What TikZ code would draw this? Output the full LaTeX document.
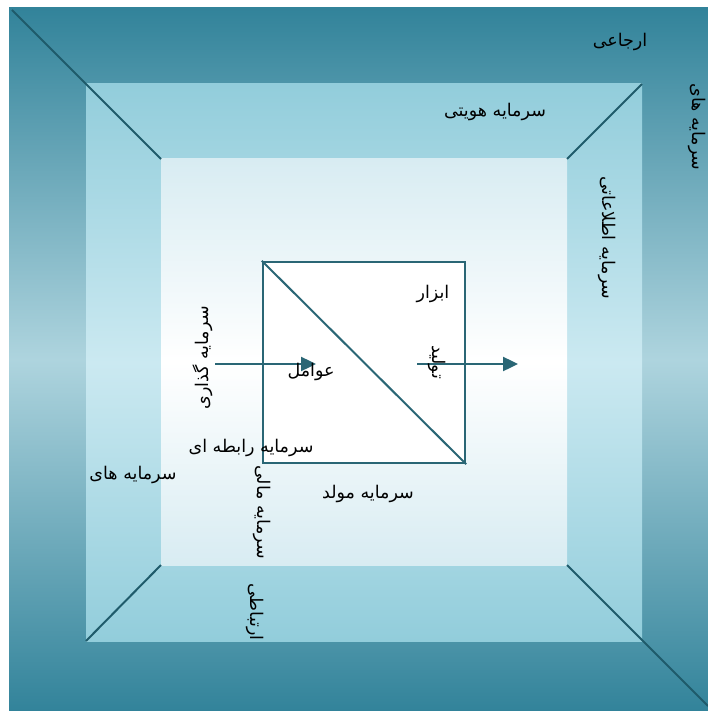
\documentclass[tikz,border=0pt]{standalone}
\usepackage{fontspec}
\newfontfamily\farsi[Script=Arabic]{DejaVu Sans}
\TeXXeTstate=1
\usetikzlibrary{arrows.meta}
\definecolor{ringdark}{HTML}{32839A}
\definecolor{ringlight}{HTML}{AED4DE}
\definecolor{midtop}{HTML}{92CDDB}
\definecolor{midlight}{HTML}{CBE9F1}
\definecolor{coretop}{HTML}{D8ECF2}
\definecolor{edgeline}{HTML}{1F5B6B}
\definecolor{boxline}{HTML}{2A6675}
\newcommand{\fa}[1]{{\farsi\beginR #1\endR}}
\tikzset{
  lbl/.style={inner sep=0pt, font=\fontsize{17.5}{20}\selectfont},
  corner/.style={draw=edgeline, line width=2pt},
  flow/.style={draw=boxline, line width=2.4pt, -{Triangle[length=15pt,width=14pt]}}
}
\begin{document}
\begin{tikzpicture}[x=1pt,y=-1pt]
    \useasboundingbox (0,0) rectangle (708,711);
    % three nested squares
    \shade[top color=ringdark, bottom color=ringdark, middle color=ringlight] (9,8) rectangle (708,711);
    \shade[top color=midtop, bottom color=midtop, middle color=midlight] (86,84) rectangle (642,641);
    \shade[top color=coretop, bottom color=coretop, middle color=white] (161,159) rectangle (567,565);
    \coordinate (otl) at (12,10);
    \coordinate (obr) at (708,706);
    \coordinate (mtr) at (642,84);
    \coordinate (mbl) at (86,641);
    \coordinate (itl) at (161,159);
    \coordinate (itr) at (567,159);
    \coordinate (ibl) at (161,565);
    \coordinate (ibr) at (567,565);
    \draw[corner] (otl) -- (itl);
    \draw[corner] (mtr) -- (itr);
    \draw[corner] (mbl) -- (ibl);
    \draw[corner] (ibr) -- (obr);
    % centre box
    \node[draw=boxline, line width=2.4pt, fill=white, minimum width=202pt, minimum height=201pt, inner sep=0pt] (box) at (364,362.5) {};
    \draw[boxline, line width=2pt] (box.north west) -- (box.south east);
    \coordinate (inA) at (215,364);
    \coordinate (inB) at (316,364);
    \coordinate (outA) at (417,364);
    \coordinate (outB) at (518,364);
    \draw[flow] (inA) -- (inB);
    \draw[flow] (outA) -- (outB);
    % labels
    \node[lbl] (ref) at (620,42) {\fa{ارجاعی}};
    \node[lbl, rotate=-90] (capR) at (697,127) {\fa{سرمایه های}};
    \node[lbl] (ident) at (495,112) {\fa{سرمایه هویتی}};
    \node[lbl, rotate=-90] (info) at (607,238) {\fa{سرمایه اطلاعاتی}};
    \node[lbl] (tool) at (433,294) {\fa{ابزار}};
    \node[lbl, rotate=90] (invest) at (203,358) {\fa{سرمایه گذاری}};
    \node[lbl] (factor) at (311,372) {\fa{عوامل}};
    \node[lbl, rotate=-90] (prod) at (437,362) {\fa{تولید}};
    \node[lbl] (relat) at (251,448) {\fa{سرمایه رابطه ای}};
    \node[lbl] (capL) at (133,475) {\fa{سرمایه های}};
    \node[lbl, rotate=-90] (fin) at (262,512) {\fa{سرمایه مالی}};
    \node[lbl] (gen) at (368,494) {\fa{سرمایه مولد}};
    \node[lbl, rotate=-90] (comm) at (255,612) {\fa{ارتباطی}};
\end{tikzpicture}
\end{document}
